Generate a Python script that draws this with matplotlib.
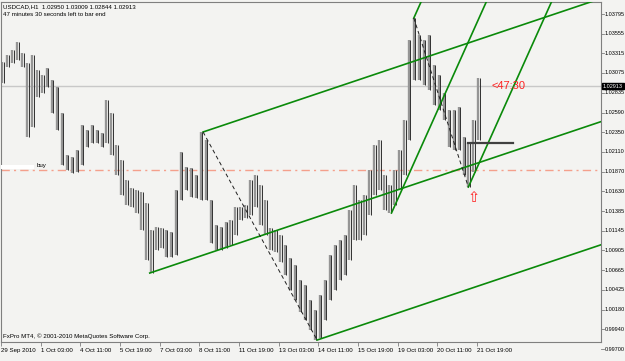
import numpy as np
import matplotlib
matplotlib.use("Agg")
import matplotlib.pyplot as plt
import matplotlib.transforms as mtransforms
from matplotlib import font_manager

# price bars, grouped 4 hourly bars per entry (high / low)
grp_high = [1.0321, 1.0329, 1.0335, 1.0345, 1.0332, 1.0320, 1.0329, 1.0311, 1.0305, 1.0313,
            1.0299, 1.0290, 1.0258, 1.0207, 1.0205, 1.0213, 1.0244, 1.0238, 1.0244, 1.0238,
            1.0234, 1.0274, 1.0258, 1.0219, 1.0201, 1.0177, 1.0167, 1.0164, 1.0162, 1.0148,
            1.0115, 1.0119, 1.0118, 1.0115, 1.0113, 1.0164, 1.0211, 1.0192, 1.0191, 1.0183,
            1.0235, 1.0225, 1.0152, 1.0122, 1.0119, 1.0125, 1.0128, 1.0144, 1.0144, 1.0146,
            1.0177, 1.0183, 1.0170, 1.0152, 1.0118, 1.0115, 1.0109, 1.0097, 1.0081, 1.0073,
            1.0054, 1.0048, 1.0030, 1.0018, 1.0036, 1.0054, 1.0085, 1.0097, 1.0103, 1.0109,
            1.0140, 1.0170, 1.0152, 1.0158, 1.0189, 1.0219, 1.0225, 1.0183, 1.0170, 1.0189,
            1.0213, 1.0250, 1.0348, 1.0375, 1.0354, 1.0348, 1.0354, 1.0317, 1.0305, 1.0283,
            1.0262, 1.0262, 1.0266, 1.0229, 1.0222, 1.0250, 1.0301]
grp_low = [1.0295, 1.0315, 1.0320, 1.0323, 1.0315, 1.0229, 1.0241, 1.0278, 1.0283, 1.0290,
           1.0258, 1.0238, 1.0195, 1.0189, 1.0185, 1.0186, 1.0195, 1.0217, 1.0222, 1.0222,
           1.0217, 1.0222, 1.0207, 1.0183, 1.0158, 1.0146, 1.0144, 1.0136, 1.0115, 1.0079,
           1.0063, 1.0091, 1.0093, 1.0082, 1.0082, 1.0085, 1.0152, 1.0164, 1.0156, 1.0155,
           1.0152, 1.0152, 1.0100, 1.0091, 1.0091, 1.0093, 1.0097, 1.0109, 1.0128, 1.0130,
           1.0134, 1.0144, 1.0122, 1.0109, 1.0091, 1.0089, 1.0076, 1.0060, 1.0042, 1.0030,
           1.0015, 1.0005, 0.9993, 0.9981, 0.9983, 1.0005, 1.0030, 1.0042, 1.0054, 1.0060,
           1.0079, 1.0103, 1.0103, 1.0109, 1.0134, 1.0158, 1.0164, 1.0140, 1.0136, 1.0146,
           1.0164, 1.0183, 1.0225, 1.0299, 1.0299, 1.0293, 1.0287, 1.0268, 1.0262, 1.0250,
           1.0217, 1.0213, 1.0213, 1.0183, 1.0168, 1.0186, 1.0225]
bars_per_grp = 4

# pitchfork anchor points (bar index, price)
pf1_idx = [120, 163, 255]
pf1_price = [1.00629, 1.02353, 0.99810]
pf2_idx = [315, 333, 377]
pf2_price = [1.01363, 1.03746, 1.01680]

last_price = 1.02913
buy_price = 1.01888
seg_price = 1.02218
seg_idx = [377, 413]
arrow_idx, arrow_price = 381, 1.0164

date_labels = ["29 Sep 2010", "1 Oct 03:00", "4 Oct 11:00", "5 Oct 19:00", "7 Oct 03:00",
               "8 Oct 11:00", "11 Oct 19:00", "13 Oct 03:00", "14 Oct 11:00", "15 Oct 19:00",
               "19 Oct 03:00", "20 Oct 11:00", "21 Oct 19:00"]
date_step = 32
price_ticks = [1.03795, 1.03555, 1.03315, 1.03075, 1.02835, 1.02590, 1.02350, 1.02110,
               1.01870, 1.01630, 1.01385, 1.01145, 1.00905, 1.00665, 1.00425, 1.00180,
               0.99940, 0.99700]

names = {f.name for f in font_manager.fontManager.ttflist}
if "Liberation Sans Narrow" in names:
    small = dict(family=["Liberation Sans Narrow", "DejaVu Sans"], fontsize=5.0)
    scale = dict(family=["Liberation Sans Narrow", "DejaVu Sans"], fontsize=4.8)
elif "DejaVu Sans Condensed" in names:
    small = dict(family=["DejaVu Sans Condensed", "DejaVu Sans"], fontsize=4.4)
    scale = dict(family=["DejaVu Sans Condensed", "DejaVu Sans"], fontsize=4.0)
else:
    small = dict(family=["Liberation Sans", "DejaVu Sans"], fontsize=4.4)
    scale = dict(family=["Liberation Sans", "DejaVu Sans"], fontsize=3.95)

bg = "#f3f3f1"
W, H = 625, 361
fig = plt.figure(figsize=(W / 100, H / 100), dpi=100, facecolor=bg)
ax = fig.add_axes([1 / W, (H - 342) / H, 600 / W, 340 / H], facecolor=bg)
ax.set_xlim(0, 484)
ax.set_ylim(0.99786, 1.03942)
for s in ax.spines.values():
    s.set_color("#7f7f7f")
    s.set_linewidth(0.8)

# current price line and buy order line
ax.axhline(last_price, color="#c8c8c8", lw=1, zorder=1)
ax.axhline(buy_price, color="#f4a08c", lw=1, ls=(0, (6, 3, 1.5, 3)), zorder=1)

# bars
centers = np.arange(len(grp_high)) * bars_per_grp + 1.5
ax.vlines(centers - 0.4, grp_low, grp_high, color="#959595", lw=1.7, zorder=2)
ax.vlines(centers + 0.8, grp_low, grp_high, color="#303030", lw=0.7, zorder=3)


def pitchfork(idx, price):
    mid_i = (idx[1] + idx[2]) / 2
    mid_p = (price[1] + price[2]) / 2
    slope = (mid_p - price[0]) / (mid_i - idx[0])
    end = 484
    for i0, p0 in zip(idx, price):
        ax.plot([i0, end], [p0, p0 + slope * (end - i0)], color="#0a8a0a", lw=1.2, zorder=4)
    ax.plot(idx[1:], price[1:], color="#202020", lw=0.7, ls=(0, (4, 3)), zorder=4)


pitchfork(pf1_idx, pf1_price)
pitchfork(pf2_idx, pf2_price)

ax.plot(seg_idx, [seg_price, seg_price], color="#404040", lw=1.6, zorder=5)

ax.text(arrow_idx, arrow_price, "\u21e7", color="#ff2020", fontsize=10.5,
        ha="center", va="top", family="DejaVu Sans", zorder=6)
ax.text(396, last_price, "<47:30", color="#ff2020", fontsize=8,
        family=["Liberation Sans", "DejaVu Sans"], ha="left", va="center", zorder=6)

# buy label
ax.add_patch(plt.Rectangle((0, buy_price + 0.00018), 27, 0.00045, color="white", lw=0, zorder=5))
ax.text(28.5, buy_price + 0.0002, "buy", ha="left", va="bottom", color="black", zorder=6, **small)

# header / footer texts
ax.text(2 / 600, 1 - 5 / 340, "USDCAD,H1  1.02950 1.03009 1.02844 1.02913", transform=ax.transAxes,
        ha="left", va="center", **small)
ax.text(2 / 600, 1 - 12 / 340, "47 minutes 30 seconds left to bar end", transform=ax.transAxes,
        ha="left", va="center", **small)
ax.text(2 / 600, 6 / 340, "FxPro MT4, \u00a9 2001-2010 MetaQuotes Software Corp.",
        transform=ax.transAxes, ha="left", va="center", **small)

# x axis dates
ax.set_xticks(np.arange(len(date_labels)) * date_step)
ax.set_xticklabels(date_labels, ha="left", **small)
ax.tick_params(axis="x", length=3, width=0.6, color="#7f7f7f", pad=1)
ax.set_yticks([])

# price scale on the right
tr = mtransforms.blended_transform_factory(ax.transAxes, ax.transData)
for v in price_ticks:
    ax.plot([1.0, 1.0 + 3 / 600], [v, v], transform=tr, color="#7f7f7f", lw=0.6, clip_on=False)
    ax.text(1.0 + 4 / 600, v, f"{v:.5f}", transform=tr, ha="left", va="center", clip_on=False, **scale)
ax.text(1.0 + 2 / 600, last_price, f"{last_price:.5f}", transform=tr, ha="left", va="center",
        color="white", clip_on=False, zorder=10,
        bbox=dict(boxstyle="square,pad=0.12", fc="black", ec="black"), **scale)

fig.savefig("out.png", dpi=100, facecolor=bg)
